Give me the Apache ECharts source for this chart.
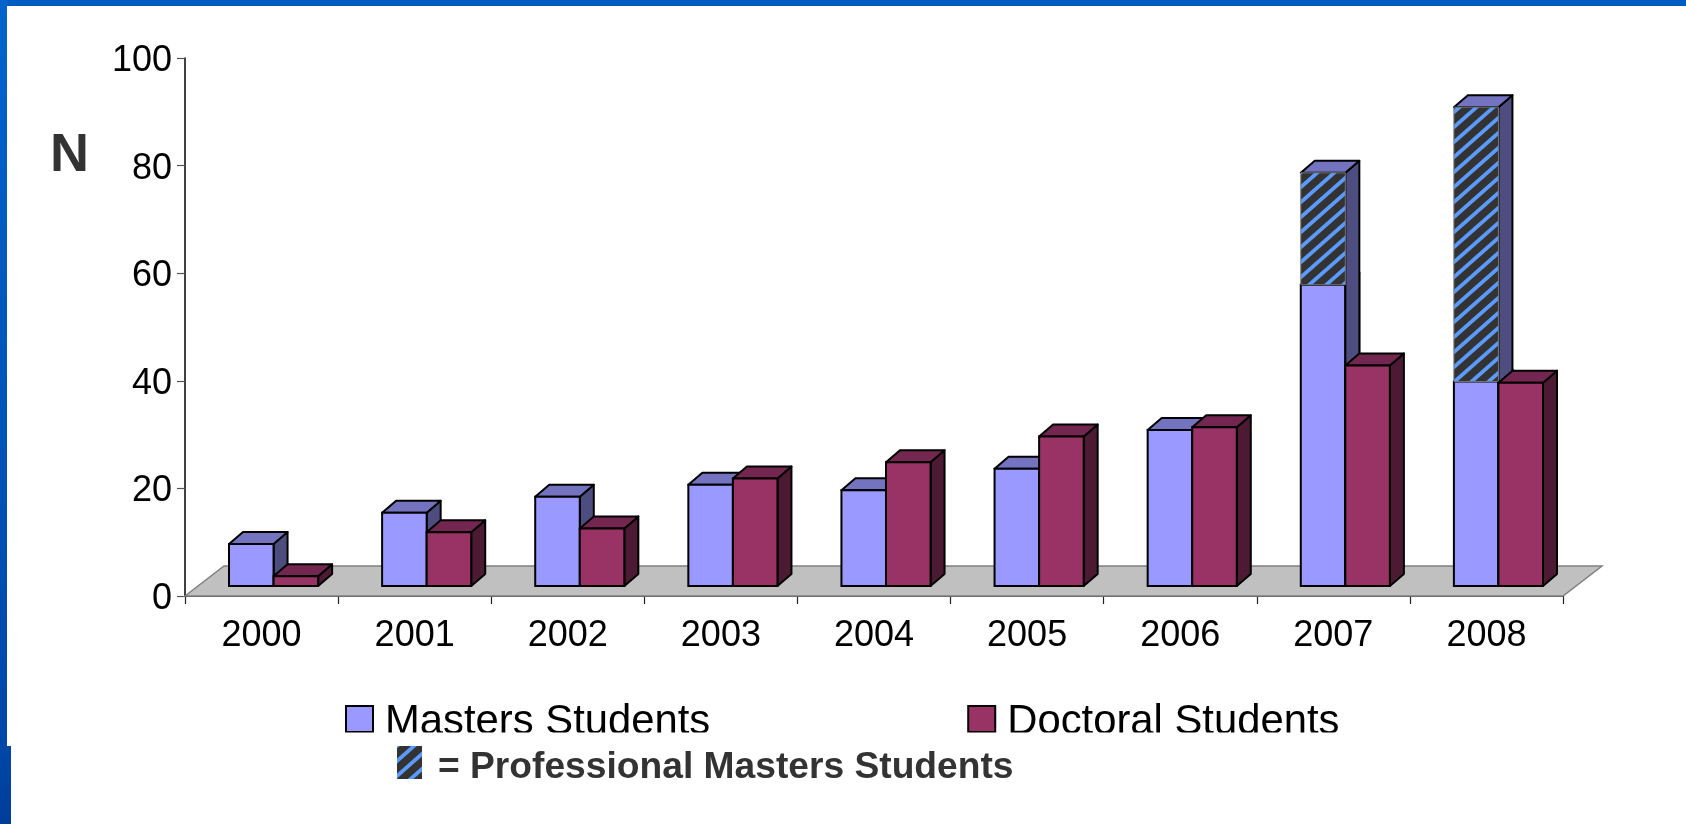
<!DOCTYPE html>
<html>
<head>
<meta charset="utf-8">
<style>html,body{margin:0;padding:0;background:#fff}#c{width:1686px;height:824px}</style>
<script src="https://cdn.jsdelivr.net/npm/echarts@6/dist/echarts.min.js"></script>
</head>
<body>
<div id="c"></div>
<script>
const years = ['2000','2001','2002','2003','2004','2005','2006','2007','2008'];
const masters = [7.8,13.6,16.6,18.8,17.8,21.8,29,56,38];
const professional = [null,null,null,null,null,null,null,20.8,51];
const doctoral = [1.8,10,10.7,20,23,27.8,29.5,41,37.8];
const yTicks = {min:0,max:100,interval:20};

const FONT = '"Liberation Sans", Arial, sans-serif';
const DEPTH = {frontX:12, frontY:-10, backX:14, backY:-12, floorX:39, floorY:-30};
const BAR_FRAC = 0.291;

function hatch(){
  const w=17, h=15, c=document.createElement('canvas'); c.width=w; c.height=h;
  const g=c.getContext('2d');
  g.fillStyle='#333333'; g.fillRect(0,0,w,h);
  g.strokeStyle='#5B9BFF'; g.lineWidth=3.8;
  [[-w,h,w,-h],[0,h,w,0],[0,2*h,2*w,0]].forEach(l=>{g.beginPath();g.moveTo(l[0],l[1]);g.lineTo(l[2],l[3]);g.stroke();});
  return {image:c,repeat:'repeat'};
}
const HATCH = hatch();

function box(api,idx,base,val,slot,st){
  const cx=api.coord([idx,0])[0];
  const band=api.size([1,0])[0];
  const w=band*BAR_FRAC;
  const left=cx+DEPTH.frontX-w+slot*w, right=left+w;
  const y0=api.coord([idx,0])[1]+DEPTH.frontY;
  const yb=api.coord([idx,base])[1]+DEPTH.frontY, yt=api.coord([idx,base+val])[1]+DEPTH.frontY;
  const bx=DEPTH.backX, by=DEPTH.backY;
  const line={stroke:'#000',lineWidth:2,lineJoin:'round'};
  return {type:'group',children:[
    {type:'polygon',shape:{points:[[right,yt],[right+bx,yt+by],[right+bx,y0+by],[right,y0]]},style:Object.assign({fill:st.side},line)},
    {type:'polygon',shape:{points:[[left,yt],[left+bx,yt+by],[right+bx,yt+by],[right,yt]]},style:Object.assign({fill:st.top},line)},
    {type:'rect',shape:{x:left,y:yt,width:w,height:yb-yt},style:{fill:st.front,stroke:st.edge,lineWidth:st.edgeW}}
  ]};
}
function barSeries(name,rows,slot,st){
  return {type:'custom',name,data:rows,coordinateSystem:'cartesian2d',silent:true,
    encode:{x:0,y:1},itemStyle:{color:st.legend},
    renderItem(p,api){
      const v=api.value(1);
      if(v==null||isNaN(v)) return null;
      return box(api,api.value(0),api.value(2),v,slot,st);
    }};
}
const series=[
  {type:'custom',name:'floor',data:[[0,0]],silent:true,encode:{x:0,y:1},z:1,
   renderItem(p){
     const r=p.coordSys, b=r.y+r.height;
     return {type:'polygon',shape:{points:[[r.x,b],[r.x+DEPTH.floorX,b+DEPTH.floorY],[r.x+r.width+DEPTH.floorX,b+DEPTH.floorY],[r.x+r.width,b]]},
       style:{fill:'#C0C0C0',stroke:'#808080',lineWidth:1.5}};
   }},
  barSeries('Masters Students',years.map((y,i)=>[i,masters[i],0]),0,{side:'#4D4D80',top:'#7373BF',front:'#9999FF',edge:'#000',edgeW:2,legend:'#9999FF'}),
  barSeries('Professional Masters Students',years.map((y,i)=>[i,professional[i],masters[i]]),0,{side:'#4D4D80',top:'#7373BF',front:HATCH,edge:'#777',edgeW:1,legend:'#333333'}),
  barSeries('Doctoral Students',years.map((y,i)=>[i,doctoral[i],0]),1,{side:'#4D1A33',top:'#732650',front:'#993366',edge:'#000',edgeW:2,legend:'#993366'})
];

const chart=echarts.init(document.getElementById('c'));
chart.setOption({
  animation:false,
  backgroundColor:'#fff',
  grid:{left:185,right:123,top:58,bottom:228,containLabel:false},
  xAxis:{type:'category',data:years,boundaryGap:true,
    axisLine:{onZero:true,lineStyle:{color:'#000',width:1.5}},
    axisTick:{show:true,length:8,alignWithLabel:false,interval:0,lineStyle:{color:'#222',width:1.2}},
    axisLabel:{interval:0,margin:22,fontFamily:FONT,fontSize:36,color:'#000'},
    splitLine:{show:false}},
  yAxis:{type:'value',min:yTicks.min,max:yTicks.max,interval:yTicks.interval,
    axisLine:{show:true,lineStyle:{color:'#000',width:1.5}},
    axisTick:{show:true,length:8,lineStyle:{color:'#555',width:1.2}},
    axisLabel:{margin:13,fontFamily:FONT,fontSize:36,color:'#000',verticalAlign:'top',lineHeight:6},
    splitLine:{show:false}},
  legend:[
    {z:2,left:345,top:701,padding:0,orient:'horizontal',selectedMode:false,itemWidth:27,itemHeight:26,itemGap:257,
     data:['Masters Students','Doctoral Students'],
     formatter:'{t|{name}}',
     itemStyle:{borderColor:'#000',borderWidth:2},
     textStyle:{padding:[6,0,0,7],rich:{t:{fontFamily:FONT,fontSize:41.8,color:'#000'}}},
     icon:'rect'},
    {z:60,left:397,top:746,padding:0,selectedMode:false,itemWidth:25,itemHeight:33,
     data:['Professional Masters Students'],formatter:'{t|= {name}}',
     itemStyle:{color:HATCH,borderWidth:0},
     textStyle:{padding:[10,0,0,11],rich:{t:{fontFamily:FONT,fontSize:37.2,fontWeight:'bold',color:'#333'}}},
     icon:'rect'}
  ],
  graphic:[
    {type:'rect',z:50,silent:true,shape:{x:300,y:732.5,width:1200,height:14},style:{fill:'#fff'}},
    {type:'rect',z:51,silent:true,shape:{x:0,y:0,width:1686,height:6},style:{fill:'#005CC2'}},
    {type:'rect',z:51,silent:true,shape:{x:0,y:0,width:7,height:746},style:{fill:new echarts.graphic.LinearGradient(0,0,0,1,[{offset:0,color:'#0064CC'},{offset:1,color:'#0047A8'}])}},
    {type:'rect',z:51,silent:true,shape:{x:0,y:746,width:11,height:78},style:{fill:new echarts.graphic.LinearGradient(0,0,0,1,[{offset:0,color:'#0047A8'},{offset:1,color:'#003D99'}])}},
    {type:'text',z:51,silent:true,x:50,y:183,style:{text:'N',font:'bold 54px "Liberation Sans", Arial, sans-serif',fill:'#333',textVerticalAlign:'bottom',verticalAlign:'alphabetic'}}
  ],
  series
});
</script>
</body>
</html>
